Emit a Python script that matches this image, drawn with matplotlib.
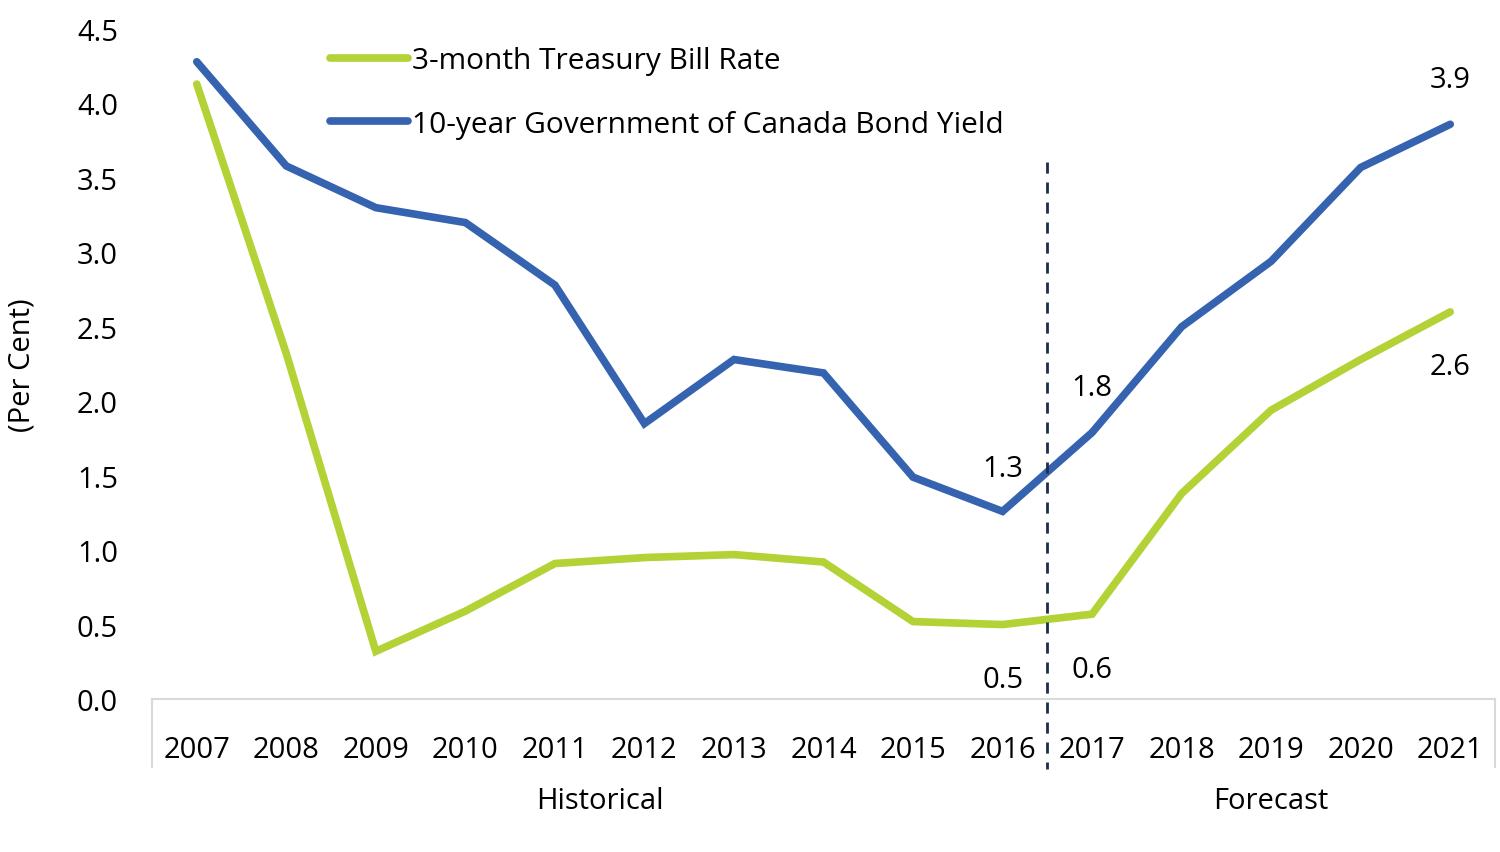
import matplotlib
matplotlib.use("Agg")
import matplotlib.pyplot as plt

plt.rcParams['font.family'] = ['Open Sans', 'DejaVu Sans']

years = ["2007", "2008", "2009", "2010", "2011", "2012", "2013", "2014",
         "2015", "2016", "2017", "2018", "2019", "2020", "2021"]
tbill = [4.13, 2.32, 0.32, 0.59, 0.91, 0.95, 0.97, 0.92, 0.52, 0.50, 0.57, 1.38, 1.94, 2.28, 2.60]
bond10 = [4.28, 3.58, 3.30, 3.20, 2.78, 1.85, 2.28, 2.19, 1.49, 1.26, 1.79, 2.50, 2.94, 3.57, 3.86]
series_labels = ["3-month Treasury Bill Rate", "10-year Government of Canada Bond Yield"]
groups = ["Historical", "Forecast"]
yticks = [0.0, 0.5, 1.0, 1.5, 2.0, 2.5, 3.0, 3.5, 4.0, 4.5]

GREEN = "#B2D235"
BLUE = "#3563AF"
DASH = "#1F2D4A"
GRID = "#D9D9D9"

W, H = 1500, 853
fig = plt.figure(figsize=(W / 100, H / 100), dpi=100)
ax = fig.add_axes([152 / W, 1 - 700 / H, (1495 - 152) / W, (700 - 30) / H])

FS = 21
x = list(range(len(years)))
ax.plot(x, tbill, color=GREEN, lw=5.5, solid_capstyle='round', solid_joinstyle='miter', label=series_labels[0], zorder=3)
ax.plot(x, bond10, color=BLUE, lw=5.5, solid_capstyle='round', solid_joinstyle='miter', label=series_labels[1], zorder=3)

ax.set_xlim(-0.5, len(years) - 0.5)
ax.set_ylim(0, 4.5)
ax.set_yticks(yticks)
ax.set_yticklabels([f"{v:.1f}" for v in yticks])
ax.set_xticks(x)
ax.set_xticklabels(years)
ax.tick_params(axis='y', length=0, pad=24.5, labelsize=FS)
ax.tick_params(axis='x', length=0, pad=26, labelsize=FS)

for s in ['top', 'right', 'left']:
    ax.spines[s].set_visible(False)
ax.spines['bottom'].set_color(GRID)
ax.spines['bottom'].set_linewidth(1.5)

ax.set_ylabel("(Per Cent)", fontsize=FS)
ax.yaxis.set_label_coords(-0.086, 0.5)

# group separators on the category axis
ytop_sep = -68 / 148.9
for xs in [-0.5, len(years) - 0.5]:
    ax.plot([xs, xs], [0, ytop_sep], color=GRID, lw=1.5, clip_on=False)

# dashed historical/forecast divider
ax.plot([9.5, 9.5], [3.61, -70 / 148.9], color=DASH, lw=2, ls=(0, (4, 3.2)), clip_on=False, zorder=4)

# group labels
ax.text(4.5, -102 / 148.9, groups[0], ha='center', va='center', fontsize=FS)
ax.text(12, -102 / 148.9, groups[1], ha='center', va='center', fontsize=FS)

# data labels
ax.text(9, bond10[9] + 0.29, f"{bond10[9]:.1f}", ha='center', va='center', fontsize=FS)
ax.text(9, tbill[9] - 0.37, f"{tbill[9]:.1f}", ha='center', va='center', fontsize=FS)
ax.text(10, bond10[10] + 0.30, f"{bond10[10]:.1f}", ha='center', va='center', fontsize=FS)
ax.text(10, tbill[10] - 0.37, f"{tbill[10]:.1f}", ha='center', va='center', fontsize=FS)
ax.text(14, bond10[14] + 0.30, f"{bond10[14]:.1f}", ha='center', va='center', fontsize=FS)
ax.text(14, tbill[14] - 0.37, f"{tbill[14]:.1f}", ha='center', va='center', fontsize=FS)

leg = ax.legend(loc='upper left', bbox_to_anchor=((318 - 152) / (1495 - 152), 0.9925),
                frameon=False, fontsize=21.5, handlelength=2.6, handletextpad=0.15,
                labelspacing=1.17, borderaxespad=0)

fig.savefig("out.png", dpi=100)
